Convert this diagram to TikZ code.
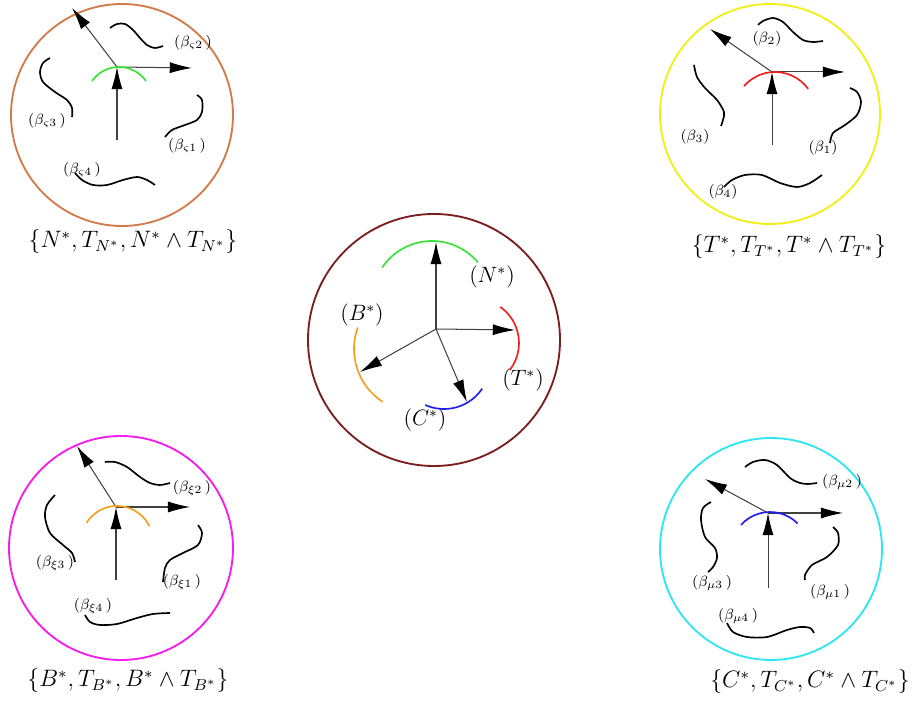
\documentclass[tikz,border=0pt]{standalone}
\usepackage{amsmath,amssymb}
\usetikzlibrary{arrows.meta}
\definecolor{ringN}{HTML}{D27A4A}
\definecolor{ringT}{HTML}{F2EE1A}
\definecolor{ringC}{HTML}{7A1E1E}
\definecolor{ringB}{HTML}{F51CF0}
\definecolor{ringM}{HTML}{2EE6F0}
\definecolor{arcN}{HTML}{38E038}
\definecolor{arcT}{HTML}{F02020}
\definecolor{arcB}{HTML}{F5A020}
\definecolor{arcC}{HTML}{2020F0}
\newcommand{\frameset}[1]{\scalebox{1.07}{$#1$}}
\tikzset{
  ring/.style={line width=1pt},
  vec/.style={-{Latex[length=12pt,width=6pt,color=black]},draw=black!75,line width=0.55pt},
  strand/.style={line width=0.9pt},
  band/.style={line width=0.9pt},
  tag/.style={font=\footnotesize,inner sep=0pt},
  dirtag/.style={font=\large,inner sep=0pt},
  settag/.style={font=\large,inner sep=0pt},
}
\begin{document}
\begin{tikzpicture}[x=0.54pt,y=0.54pt]
\useasboundingbox (0,0) rectangle (919,701);

% top left: N*
\draw[ring,ringN] (122,586) circle[radius=111];
\coordinate (nO) at (117,634);
\coordinate (nA) at (72,693);
\coordinate (nR) at (192,633);
\coordinate (nS) at (117,561);
\draw[vec] (nO) -- (nA);
\draw[vec] (nO) -- (nR);
\draw[vec] (nS) -- (nO);
\coordinate (nK) at (119,601);
\draw[band,arcN] (nK) ++(35:33) arc[start angle=35,end angle=145,radius=33];
\draw[strand] plot[smooth] coordinates {(110,673) (117,677) (125,677) (133,671) (140,663) (147,656) (155,653) (163,655)};
\draw[strand] plot[smooth] coordinates {(50,643) (43,638) (40,629) (43,619) (55,609) (67,601) (72,593) (72,584)};
\draw[strand] plot[smooth] coordinates {(197,606) (202,601) (202,589) (197,581) (185,576) (172,571) (165,564)};
\draw[strand] plot[smooth] coordinates {(75,528) (82,521) (93,516) (107,516) (123,521) (137,524) (147,521) (155,516)};
\node[tag] (n2) at (193,658) {$(\beta_{\varsigma 2}\,)$};
\node[tag] (n3) at (47,580) {$(\beta_{\varsigma 3}\,)$};
\node[tag] (n1) at (187,555) {$(\beta_{\varsigma 1}\,)$};
\node[tag] (n4) at (82,531) {$(\beta_{\varsigma 4}\,)$};
\node[settag] (nset) at (133,459) {\frameset{\{N^*,T_{N^*},N^*\wedge T_{N^*}\}}};

% top right: T*
\draw[ring,ringT] (770,587) circle[radius=110];
\coordinate (tO) at (772,629);
\coordinate (tA) at (710,672);
\coordinate (tR) at (845,629);
\coordinate (tS) at (772,556);
\draw[vec] (tO) -- (tA);
\draw[vec] (tO) -- (tR);
\draw[vec] (tS) -- (tO);
\coordinate (tK) at (775,588);
\draw[band,arcT] (tK) ++(36:41) arc[start angle=36,end angle=139,radius=41];
\draw[strand] plot[smooth] coordinates {(758,676) (763,680) (773,683) (783,679) (793,669) (803,661) (813,659) (823,660)};
\draw[strand] plot[smooth] coordinates {(694,636) (697,624) (705,613) (717,601) (724,589) (723,581) (721,575)};
\draw[strand] plot[smooth] coordinates {(850,613) (857,609) (861,599) (857,586) (845,576) (833,568) (830,558)};
\draw[strand] plot[smooth] coordinates {(724,514) (732,521) (745,526) (762,526) (780,518) (797,514) (810,518) (822,526)};
\node[tag] (t2) at (767,662) {$(\beta_2)$};
\node[tag] (t3) at (695,564) {$(\beta_3)$};
\node[tag] (t1) at (823,553) {$(\beta_1)$};
\node[tag] (t4) at (723,509) {$(\beta_4)$};
\node[settag] (tset) at (789,454) {\frameset{\{T^*,T_{T^*},T^*\wedge T_{T^*}\}}};

% centre frame
\draw[ring,ringC] (434,361) circle[radius=126];
\coordinate (o) at (436,372);
\coordinate (oN) at (436,459);
\coordinate (oT) at (515,371);
\coordinate (oB) at (360,329);
\coordinate (oC) at (467,299);
\draw[vec] (o) -- (oN);
\draw[vec] (o) -- (oT);
\draw[vec] (o) -- (oB);
\draw[vec] (o) -- (oC);
\coordinate (kN) at (432,400);
\coordinate (kT) at (475,358);
\coordinate (kB) at (417,352);
\coordinate (kC) at (444,338);
\draw[band,arcN] (kN) ++(40:60) arc[start angle=40,end angle=146,radius=60];
\draw[band,arcT] (kT) ++(-38:44) arc[start angle=-38,end angle=55,radius=44];
\draw[band,arcB] (kB) ++(160:63) arc[start angle=160,end angle=237,radius=63];
\draw[band,arcC] (kC) ++(246:46) arc[start angle=246,end angle=326,radius=46];
\node[dirtag] (lN) at (492,424) {$(N^*)$};
\node[dirtag] (lT) at (523,321) {$(T^*)$};
\node[dirtag] (lB) at (362,386) {$(B^*)$};
\node[dirtag] (lC) at (425,281) {$(C^*)$};

% bottom left: B*
\draw[ring,ringB] (121,153) circle[radius=112];
\coordinate (bO) at (116,194);
\coordinate (bA) at (77,255);
\coordinate (bR) at (190,194);
\coordinate (bS) at (116,121);
\draw[vec] (bO) -- (bA);
\draw[vec] (bO) -- (bR);
\draw[vec] (bS) -- (bO);
\coordinate (bK) at (117,159);
\draw[band,arcB] (bK) ++(26:36) arc[start angle=26,end angle=148,radius=36];
\draw[strand] plot[smooth] coordinates {(105,239) (115,239) (127,234) (140,224) (150,218) (160,216) (170,218)};
\draw[strand] plot[smooth] coordinates {(55,206) (47,196) (45,184) (50,168) (63,156) (72,148) (75,139)};
\draw[strand] plot[smooth] coordinates {(198,176) (202,168) (198,156) (183,148) (170,141) (165,133) (163,119)};
\draw[strand] plot[smooth] coordinates {(85,86) (90,79) (100,76) (117,77) (137,83) (153,87) (170,88)};
\node[tag] (b2) at (192,213) {$(\beta_{\xi 2}\,)$};
\node[tag] (b3) at (55,138) {$(\beta_{\xi 3}\,)$};
\node[tag] (b1) at (182,119) {$(\beta_{\xi 1}\,)$};
\node[tag] (b4) at (93,95) {$(\beta_{\xi 4}\,)$};
\node[settag] (bset) at (128,20) {\frameset{\{B^*,T_{B^*},B^*\wedge T_{B^*}\}}};

% bottom right: C*
\draw[ring,ringM] (771,152) circle[radius=111];
\coordinate (cO) at (768,188);
\coordinate (cA) at (705,222);
\coordinate (cR) at (843,188);
\coordinate (cS) at (768,113);
\draw[vec] (cO) -- (cA);
\draw[vec] (cO) -- (cR);
\draw[vec] (cS) -- (cO);
\coordinate (cK) at (770,150);
\draw[band,arcC] (cK) ++(45:39) arc[start angle=45,end angle=138,radius=39];
\draw[strand] plot[smooth] coordinates {(745,234) (753,239) (765,241) (777,236) (790,223) (800,218) (808,217) (817,218)};
\draw[strand] plot[smooth] coordinates {(711,199) (703,193) (701,181) (705,164) (715,153) (717,143) (713,134) (708,129)};
\draw[strand] plot[smooth] coordinates {(833,174) (838,168) (838,156) (827,144) (812,136) (805,126) (805,121)};
\draw[strand] plot[smooth] coordinates {(727,78) (733,69) (747,64) (767,64) (787,71) (800,74) (810,73) (814,68)};
\node[tag] (c2) at (842,219) {$(\beta_{\mu 2}\,)$};
\node[tag] (c3) at (712,118) {$(\beta_{\mu 3}\,)$};
\node[tag] (c1) at (830,109) {$(\beta_{\mu 1}\,)$};
\node[tag] (c4) at (738,85) {$(\beta_{\mu 4}\,)$};
\node[settag] (cset) at (810,19) {\frameset{\{C^*,T_{C^*},C^*\wedge T_{C^*}\}}};
\end{tikzpicture}
\end{document}
